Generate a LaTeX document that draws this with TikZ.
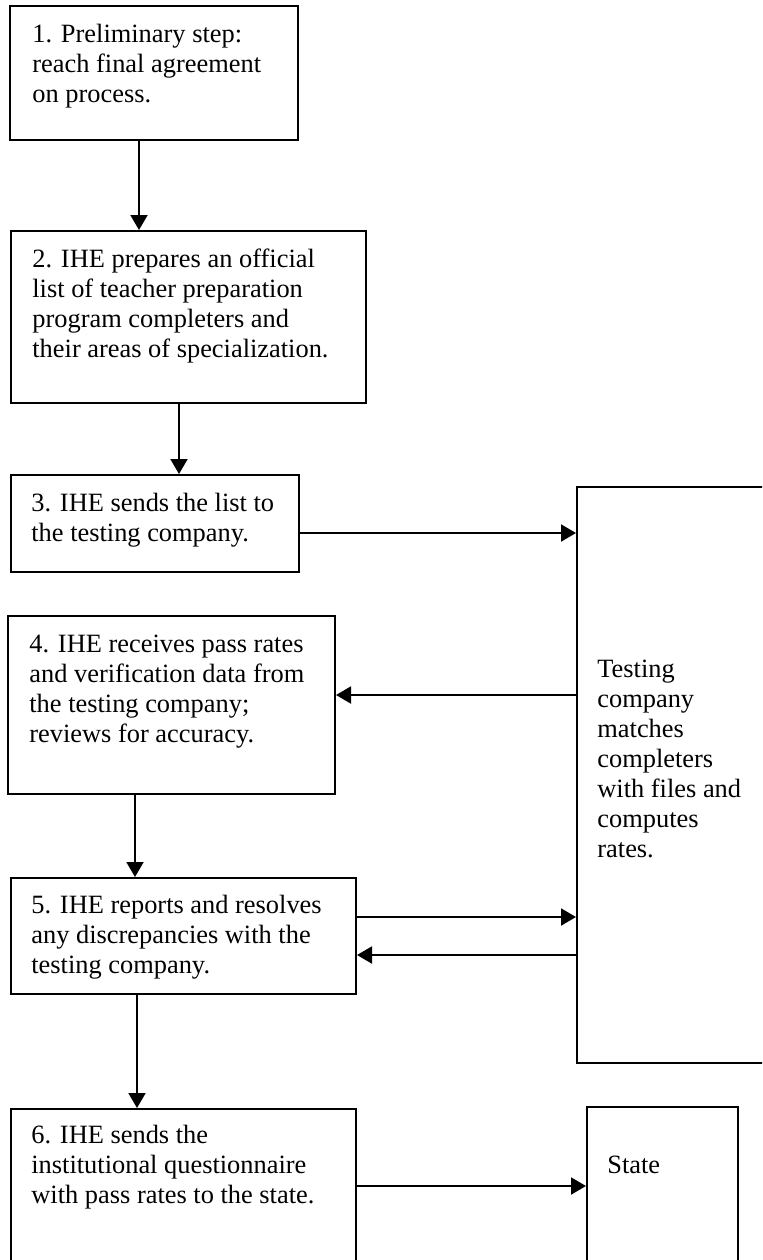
\documentclass[tikz,border=0pt]{standalone}
\usepackage{fontspec}
\setmainfont{Liberation Serif}
\usetikzlibrary{arrows.meta,fit}

\newcommand{\stepfont}{\fontsize{13.2}{15}\selectfont}

\tikzset{
    stepbox/.style={draw, line width=1pt, inner sep=0pt},
    steptext/.style={inner sep=0pt, anchor=base west, font=\stepfont},
    arr/.style={-{Triangle[length=7.5pt,width=8.5pt]}, line width=1pt}
}

\begin{document}
\begin{tikzpicture}[x=0.5pt, y=-0.5pt]
    \useasboundingbox (0,0) rectangle (762,1260);
    \clip (0,0) rectangle (762,1260);

    % Steps on the left
    \node[stepbox, fit={(10,6) (298,140)}] (s1) {};
    \node[steptext] (t1) at (32,42) {\parbox[t]{180pt}{\raggedright
        1. Preliminary step:\\reach final agreement\\on process.}};

    \node[stepbox, fit={(11,231) (366,403)}] (s2) {};
    \node[steptext] (t2) at (32,267) {\parbox[t]{180pt}{\raggedright
        2. IHE prepares an official\\list of teacher preparation\\program completers and\\their areas of specialization.}};

    \node[stepbox, fit={(11,475) (299,572)}] (s3) {};
    \node[steptext] (t3) at (31,511) {\parbox[t]{180pt}{\raggedright
        3. IHE sends the list to\\the testing company.}};

    \node[stepbox, fit={(8,616) (335,794)}] (s4) {};
    \node[steptext] (t4) at (29,652) {\parbox[t]{180pt}{\raggedright
        4. IHE receives pass rates\\and verification data from\\the testing company;\\reviews for accuracy.}};

    \node[stepbox, fit={(11,878) (356,994)}] (s5) {};
    \node[steptext] (t5) at (31,913) {\parbox[t]{180pt}{\raggedright
        5. IHE reports and resolves\\any discrepancies with the\\testing company.}};

    \node[stepbox, fit={(11,1109) (356,1290)}] (s6) {};
    \node[steptext] (t6) at (31,1143) {\parbox[t]{180pt}{\raggedright
        6. IHE sends the\\institutional questionnaire\\with pass rates to the state.}};

    % Testing company and state
    \node[stepbox, fit={(577,487) (790,1063)}] (tc) {};
    \node[steptext] (ttc) at (597,677) {\parbox[t]{90pt}{\raggedright
        Testing\\company\\matches\\completers\\with files and\\computes\\rates.}};

    \node[stepbox, fit={(587,1107) (738,1290)}] (st) {};
    \node[steptext] (tst) at (607,1173) {State};

    % Downward arrows
    \draw[arr] ([xshift=-7.5pt]s1.south) -- ([xshift=-7.5pt]s1.south |- s2.north);
    \draw[arr] ([xshift=-4.75pt]s2.south) -- ([xshift=-4.75pt]s2.south |- s3.north);
    \draw[arr] ([xshift=-18.25pt]s4.south) -- ([xshift=-18.25pt]s4.south |- s5.north);
    \draw[arr] ([xshift=-23.25pt]s5.south) -- ([xshift=-23.25pt]s5.south |- s6.north);

    % Arrows to and from the testing company
    \coordinate (p3) at ([yshift=-4.75pt]s3.east);
    \draw[arr] (p3) -- (p3 -| tc.west);
    \coordinate (p4) at ([yshift=5pt]s4.east);
    \draw[arr] (p4 -| tc.west) -- (p4);
    \coordinate (p5a) at ([yshift=9.5pt]s5.east);
    \draw[arr] (p5a) -- (p5a -| tc.west);
    \coordinate (p5b) at ([yshift=-9.5pt]s5.east);
    \draw[arr] (p5b -| tc.west) -- (p5b);

    % Arrow to the state
    \coordinate (p6) at (s6.east |- 0,1186);
    \draw[arr] (p6) -- (p6 -| st.west);
\end{tikzpicture}
\end{document}
